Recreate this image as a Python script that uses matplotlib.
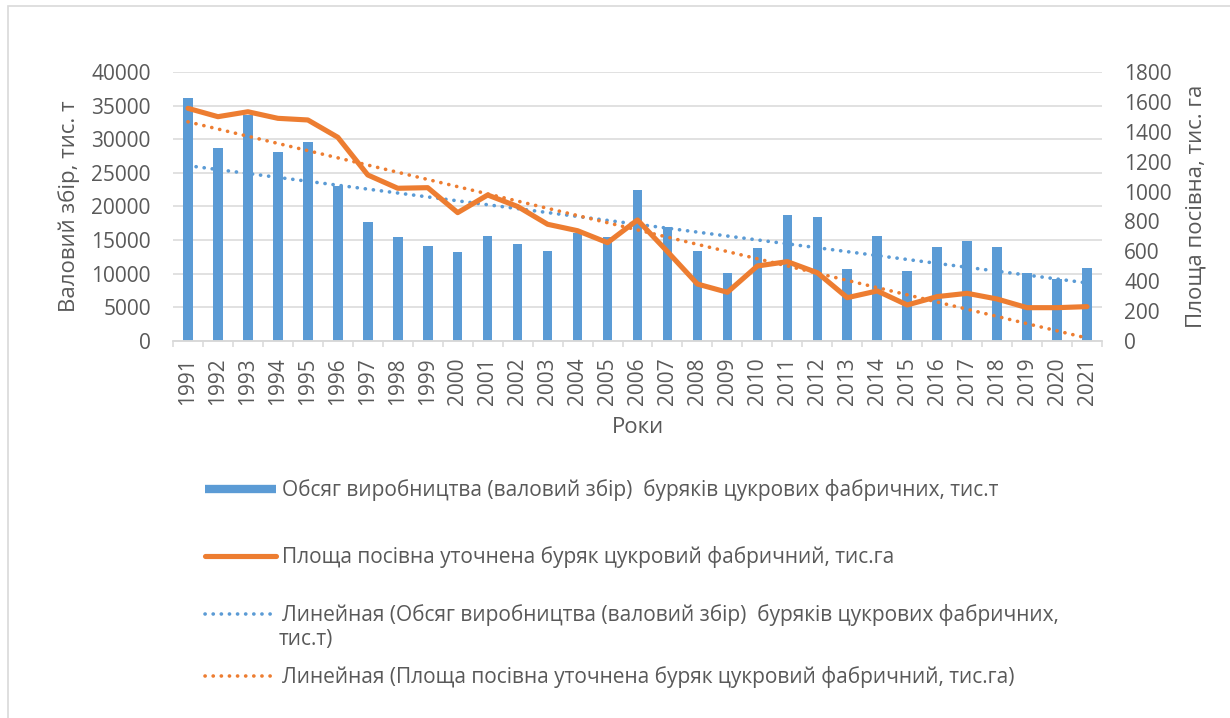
import numpy as np
import matplotlib
matplotlib.use("Agg")
import matplotlib.pyplot as plt
from matplotlib.lines import Line2D
from matplotlib.patches import Rectangle

plt.rcParams["font.family"] = ["Open Sans", "DejaVu Sans"]

# ── DATA ──────────────────────────────────────────────────────────────────────
years = list(range(1991, 2022))
year_labels = [str(y) for y in years]

# gross harvest, thousand tonnes (left axis)
harvest = [36180, 28740, 33600, 28150, 29640, 23050, 17650, 15460, 14080, 13230,
           15610, 14470, 13380, 16010, 15460, 22450, 16900, 13380, 10060, 13780,
           18740, 18440, 10710, 15660, 10360, 13930, 14820, 13930, 10160, 9170,
           10810]

# sown area, thousand ha (right axis)
area = [1557, 1501, 1534, 1490, 1479, 1363, 1111, 1022, 1026, 859,
        977, 900, 781, 738, 658, 810, 598, 381, 326, 502,
        531, 457, 290, 335, 241, 297, 319, 281, 223, 223,
        230]

lbl_bar = "Обсяг виробництва (валовий збір)  буряків цукрових фабричних, тис.т"
lbl_line = "Площа посівна уточнена буряк цукровий фабричний, тис.га"
lbl_tr1 = "Линейная (Обсяг виробництва (валовий збір)  буряків цукрових фабричних,"
lbl_tr1_cont = "тис.т)"
lbl_tr2 = "Линейная (Площа посівна уточнена буряк цукровий фабричний, тис.га)"

BLUE = "#5B9BD5"
ORANGE = "#ED7D31"
GRID = "#D9D9D9"
TXT = "#595959"
FS = 15
DOTS = (0, (0.05, 2.2))

# ── LINEAR TRENDS (least squares, like Excel trendline) ──────────────────────
x = np.arange(len(years))
tr_harvest = np.polyval(np.polyfit(x, harvest, 1), x)
tr_area = np.polyval(np.polyfit(x, area, 1), x)

# ── FIGURE ────────────────────────────────────────────────────────────────────
fig = plt.figure(figsize=(12.3, 7.18), dpi=100)
ax = fig.add_axes([173 / 1230, 1 - 341 / 718, 929 / 1230, 269 / 718])
ax2 = ax.twinx()

# chart border
fig.patches.append(Rectangle((7.5 / 1230, -0.1), 1.2, 1.1 - 5.5 / 718,
                             transform=fig.transFigure, fill=False,
                             edgecolor=GRID, lw=1.2))

ax.bar(x, harvest, width=0.32, color=BLUE, zorder=2)
ax.plot(x, tr_harvest, color=BLUE, lw=2.6, linestyle=DOTS,
        dash_capstyle="round", zorder=3)

ax2.plot(x, tr_area, color=ORANGE, lw=2.6, linestyle=DOTS,
         dash_capstyle="round", zorder=3)
ax2.plot(x, area, color=ORANGE, lw=3.7, solid_joinstyle="round",
         solid_capstyle="round", zorder=4)

ax.set_xlim(-0.5, len(years) - 0.5)
ax.set_ylim(0, 40000)
ax2.set_ylim(0, 1800)
ax.set_yticks(np.arange(0, 40001, 5000))
ax2.set_yticks(np.arange(0, 1801, 200))

ax.set_xticks(x)
ax.set_xticklabels(year_labels, rotation=90)
ax.set_xticks(np.arange(-0.5, len(years), 1), minor=True)
ax.tick_params(axis="x", which="major", length=0, pad=12, labelsize=FS, colors=TXT)
ax.tick_params(axis="x", which="minor", length=4.5, width=1.1, color=GRID)
ax.tick_params(axis="y", length=0, pad=16, labelsize=FS, colors=TXT)
ax2.tick_params(axis="y", length=0, pad=16, labelsize=FS, colors=TXT)

ax.yaxis.grid(True, color=GRID, lw=1.1, zorder=0)
ax.set_axisbelow(True)
for a in (ax, ax2):
    for s in ("top", "left", "right"):
        a.spines[s].set_visible(False)
    a.spines["bottom"].set_color(GRID)
    a.spines["bottom"].set_linewidth(1.1)

ax.set_ylabel("Валовий збір, тис. т", fontsize=16, color=TXT, labelpad=8)
ax2.set_ylabel("Площа посівна, тис. га", fontsize=16, color=TXT, labelpad=10)
ax.set_xlabel("Роки", fontsize=16, color=TXT, labelpad=8)

# ── LEGEND (one entry per row, placed like the Excel legend) ─────────────────
handles = [
    Line2D([], [], color=BLUE, lw=6, solid_capstyle="butt"),
    Line2D([], [], color=ORANGE, lw=3.7, solid_capstyle="round"),
    Line2D([], [], color=BLUE, lw=2.6, linestyle=DOTS, dash_capstyle="round"),
    Line2D([], [], color=ORANGE, lw=2.6, linestyle=DOTS, dash_capstyle="round"),
]
labels = [lbl_bar, lbl_line, lbl_tr1, lbl_tr2]
rows_y = [490, 557, 615, 677]
for h, l, yy in zip(handles, labels, rows_y):
    fig.legend([h], [l], loc="center left",
               bbox_to_anchor=(195 / 1230, 1 - yy / 718),
               frameon=False, fontsize=FS, handlelength=3.4,
               handletextpad=0.3, labelcolor=TXT, borderpad=0)
fig.text(279 / 1230, 1 - 639 / 718, lbl_tr1_cont, fontsize=FS, color=TXT,
         ha="left", va="center")

fig.savefig("out.png", dpi=100)
